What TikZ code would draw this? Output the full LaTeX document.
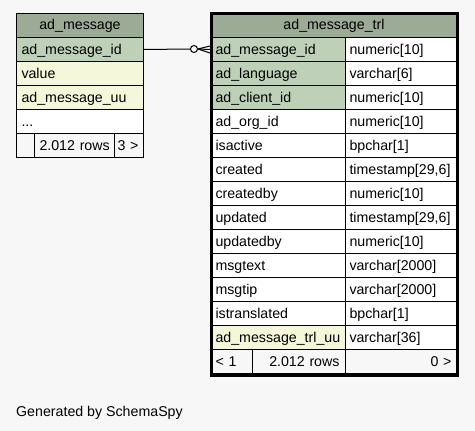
\documentclass[tikz,border=0pt]{standalone}
\usepackage{fontspec}
\setmainfont{Liberation Sans}
\usetikzlibrary{calc}
\definecolor{pagebg}{HTML}{F7F7F7}
\definecolor{headbg}{HTML}{9BAB96}
\definecolor{keybg}{HTML}{BED1B8}
\definecolor{idxbg}{HTML}{F4F7DA}
\tikzset{
  cellbox/.style={draw=black, line width=1pt, minimum height=24pt, inner ysep=0pt,
    text height=11pt, text depth=2pt, anchor=north west, font=\fontsize{14.2}{17}\selectfont},
  tframe/.style={draw=black, line width=3pt, inner sep=0pt, anchor=north west}
}
% name, x, y, width, fill, align, xsep, text
\newcommand{\ercell}[8]{%
  \pgfmathsetmacro{\ertw}{#4-2*#7}%
  \node[cellbox, fill=#5, align=#6, inner xsep=#7pt, text width=\ertw pt] (#1) at (#2,#3) {#8};}
\begin{document}
\begin{tikzpicture}[x=1pt,y=-1pt]
\fill[pagebg] (0,0) rectangle (475,431);
\useasboundingbox (0,0) rectangle (475,431);
% ---- ad_message ----
\ercell{amhead}{16}{13}{127}{headbg}{center}{5}{ad\_message}
\ercell{amid}{16}{37}{127}{keybg}{left}{5}{ad\_message\_id}
\ercell{amval}{16}{61}{127}{idxbg}{left}{5}{value}
\ercell{amuu}{16}{85}{127}{idxbg}{left}{5}{ad\_message\_uu}
\ercell{amdots}{16}{109}{127}{white}{left}{5}{...}
\ercell{amfa}{16}{133}{18}{pagebg}{left}{3}{}
\ercell{amfb}{34}{133}{80}{pagebg}{left}{3}{\hspace{2pt}2.012 rows}
\ercell{amfc}{114}{133}{29}{pagebg}{left}{3}{3 >}
% ---- ad_message_trl ----
\ercell{thead}{211}{13}{245}{headbg}{center}{5}{ad\_message\_trl}
\ercell{tid}{211}{37}{134}{keybg}{left}{4}{ad\_message\_id}
\ercell{tidt}{345}{37}{111}{white}{left}{4}{numeric[10]}
\ercell{tlang}{211}{61}{134}{keybg}{left}{4}{ad\_language}
\ercell{tlangt}{345}{61}{111}{white}{left}{4}{varchar[6]}
\ercell{tcli}{211}{85}{134}{keybg}{left}{4}{ad\_client\_id}
\ercell{tclit}{345}{85}{111}{white}{left}{4}{numeric[10]}
\ercell{torg}{211}{109}{134}{white}{left}{4}{ad\_org\_id}
\ercell{torgt}{345}{109}{111}{white}{left}{4}{numeric[10]}
\ercell{tact}{211}{133}{134}{white}{left}{4}{isactive}
\ercell{tactt}{345}{133}{111}{white}{left}{4}{bpchar[1]}
\ercell{tcre}{211}{157}{134}{white}{left}{4}{created}
\ercell{tcret}{345}{157}{111}{white}{left}{4}{timestamp[29,6]}
\ercell{tcby}{211}{181}{134}{white}{left}{4}{createdby}
\ercell{tcbyt}{345}{181}{111}{white}{left}{4}{numeric[10]}
\ercell{tupd}{211}{205}{134}{white}{left}{4}{updated}
\ercell{tupdt}{345}{205}{111}{white}{left}{4}{timestamp[29,6]}
\ercell{tuby}{211}{229}{134}{white}{left}{4}{updatedby}
\ercell{tubyt}{345}{229}{111}{white}{left}{4}{numeric[10]}
\ercell{ttxt}{211}{253}{134}{white}{left}{4}{msgtext}
\ercell{ttxtt}{345}{253}{111}{white}{left}{4}{varchar[2000]}
\ercell{ttip}{211}{277}{134}{white}{left}{4}{msgtip}
\ercell{ttipt}{345}{277}{111}{white}{left}{4}{varchar[2000]}
\ercell{ttr}{211}{301}{134}{white}{left}{4}{istranslated}
\ercell{ttrt}{345}{301}{111}{white}{left}{4}{bpchar[1]}
\ercell{tuu}{211}{325}{134}{idxbg}{left}{4}{ad\_message\_trl\_uu}
\ercell{tuut}{345}{325}{111}{white}{left}{4}{varchar[36]}
\ercell{tfa}{211}{349}{41}{pagebg}{left}{4}{< 1}
\ercell{tfb}{252}{349}{93}{pagebg}{right}{6}{2.012 rows}
\ercell{tfc}{345}{349}{111}{pagebg}{right}{5}{0 >}
\node[tframe, minimum width=246pt, minimum height=362pt] (trl) at (210,12) {};
% ---- connector ----
\node[draw=black, line width=1pt, circle, minimum size=7pt, inner sep=0pt] (odot) at (194,49) {};
\coordinate (crowtip) at (198,49);
\draw[line width=1pt] (amid.east) -- (odot.west);
\draw[line width=1pt] (odot.east) -- (crowtip);
\draw[line width=1pt] (crowtip) -- (trl.west |- tid.west);
\draw[line width=1pt] (crowtip) -- ($(trl.west |- tid.west)+(0,-3.5)$);
\draw[line width=1pt] (crowtip) -- ($(trl.west |- tid.west)+(0,3.5)$);
% ---- footer ----
\node[anchor=base west, inner sep=0pt, font=\fontsize{14.2}{17}\selectfont] (gen) at (16,416) {Generated by SchemaSpy};
\end{tikzpicture}
\end{document}
